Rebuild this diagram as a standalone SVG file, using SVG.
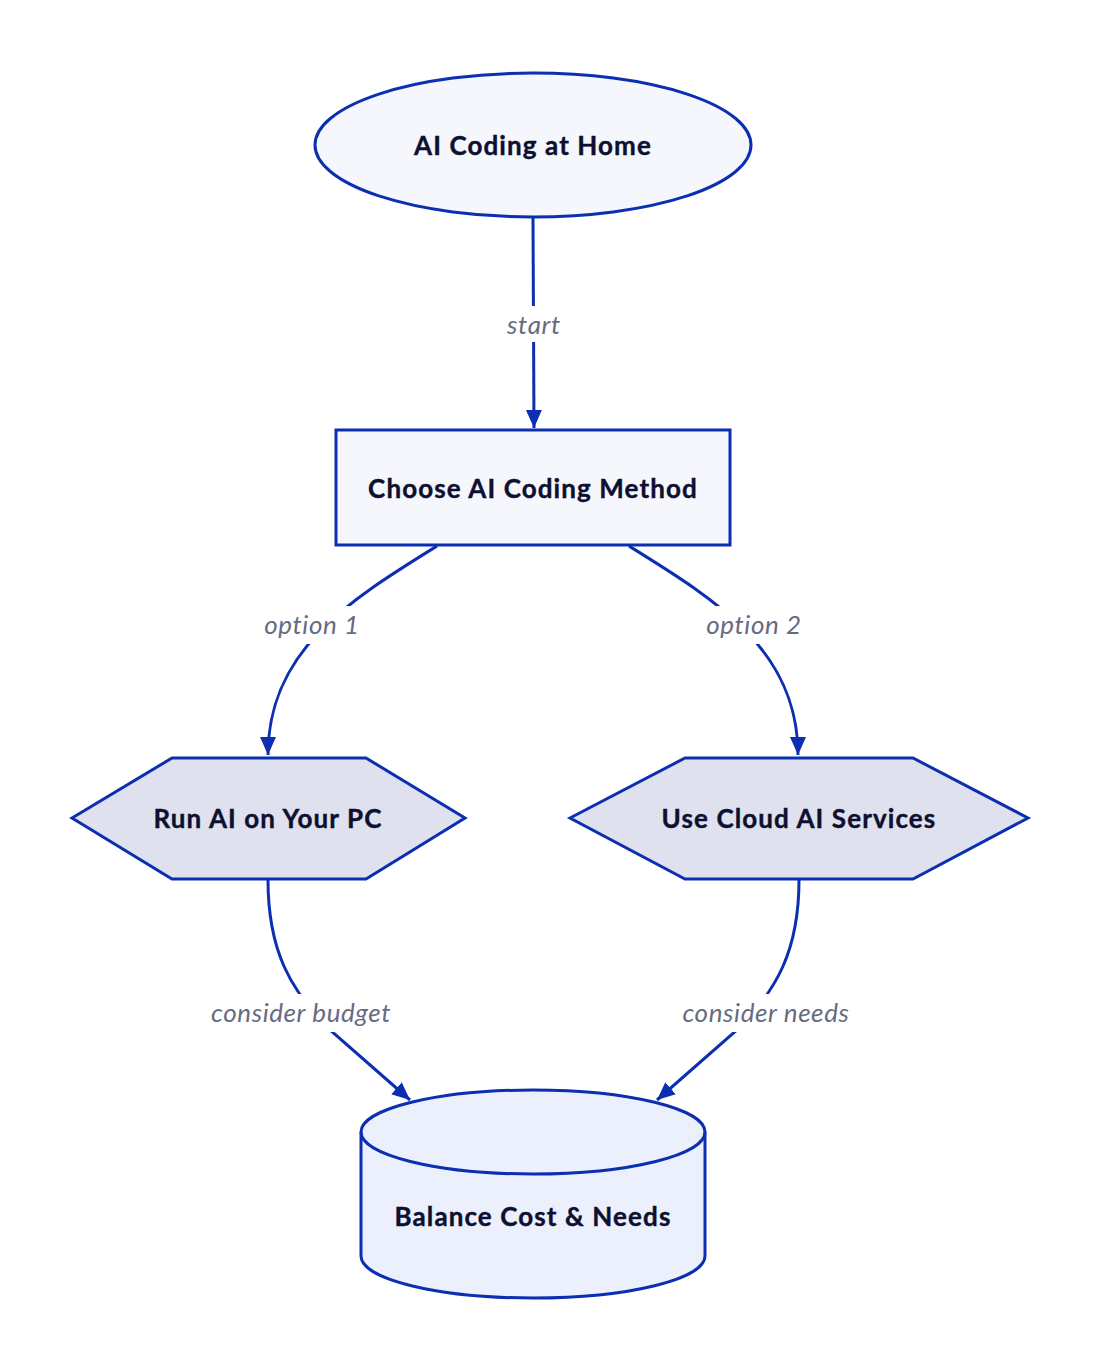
<svg xmlns="http://www.w3.org/2000/svg" width="1100" height="1370" viewBox="0 0 1100 1370">
<style>
.node{stroke:#0b2fb0;stroke-width:3}
.t{font-family:"Lato","Noto Sans",sans-serif;font-weight:bold;font-size:26px;fill:#0d1030;text-anchor:middle;dominant-baseline:central;letter-spacing:1.1px;stroke:#0d1030;stroke-width:0.4px}
.e{fill:none;stroke:#0b2fb0;stroke-width:3}
.lbl{font-family:"Lato","Noto Sans",sans-serif;font-style:italic;font-size:26px;fill:#676b82;text-anchor:middle;dominant-baseline:central;letter-spacing:0.6px}
.bg{fill:#ffffff}
</style>
<defs>
<marker id="a" viewBox="0 0 20 20" refX="18" refY="10" markerWidth="20" markerHeight="20" markerUnits="userSpaceOnUse" orient="auto">
<path d="M0,2 L18,10 L0,18 z" fill="#0b2fb0"/>
</marker>
</defs>
<rect width="1100" height="1370" fill="#ffffff"/>
<g id="connectors">
<path class="e" d="M533,218 L534,428" marker-end="url(#a)"/>
<path class="e" d="M437,546 C350,600 268,650 268,755" marker-end="url(#a)"/>
<path class="e" d="M629,546 C716,600 798,650 798,755" marker-end="url(#a)"/>
<path class="e" d="M268,880 C268,950 290,990 330,1030 L410,1100" marker-end="url(#a)"/>
<path class="e" d="M799,880 C799,950 777,990 737,1030 L657,1100" marker-end="url(#a)"/>
<rect class="bg" x="500" y="306" width="68" height="36"/>
<text class="lbl" x="534" y="324">start</text>
<rect class="bg" x="260" y="606" width="104" height="38"/>
<text class="lbl" x="312" y="624">option 1</text>
<rect class="bg" x="702" y="606" width="104" height="38"/>
<text class="lbl" x="754" y="624">option 2</text>
<rect class="bg" x="202" y="994" width="198" height="38"/>
<text class="lbl" x="301" y="1012">consider budget</text>
<rect class="bg" x="674" y="994" width="184" height="38"/>
<text class="lbl" x="766" y="1012">consider needs</text>
</g>
<g id="start">
<ellipse class="node" cx="533" cy="145" rx="218" ry="72" fill="#f5f7fc"/>
<text class="t" x="533" y="145">AI Coding at Home</text>
</g>
<g id="choose">
<rect class="node" x="336" y="430" width="394" height="115" fill="#f5f7fc"/>
<text class="t" x="533" y="488">Choose AI Coding Method</text>
</g>
<g id="local">
<polygon class="node" points="72,818 172,758 366,758 465,818 366,879 172,879" fill="#dfe2ee"/>
<text class="t" x="268" y="818">Run AI on Your PC</text>
</g>
<g id="cloud">
<polygon class="node" points="570,818 685,758 913,758 1028,818 913,879 685,879" fill="#dfe2ee"/>
<text class="t" x="799" y="818">Use Cloud AI Services</text>
</g>
<g id="balance">
<path class="node" d="M361,1132 A172,42 0 0 1 705,1132 L705,1256 A172,42 0 0 1 361,1256 Z" fill="#ecf0fc"/>
<path class="node" d="M361,1132 A172,42 0 0 0 705,1132" fill="none"/>
<text class="t" x="533" y="1216">Balance Cost &amp; Needs</text>
</g>
</svg>
